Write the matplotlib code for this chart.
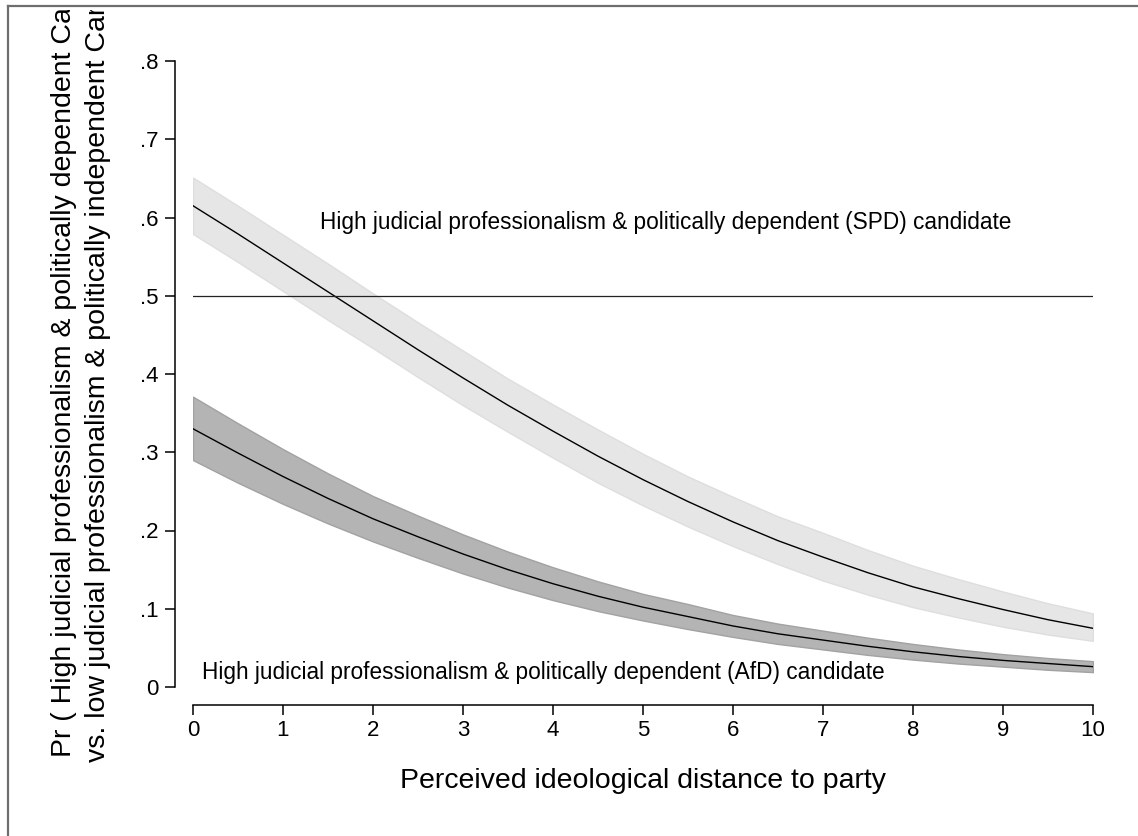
import matplotlib
matplotlib.use("Agg")
import matplotlib.pyplot as plt
from matplotlib.lines import Line2D
from matplotlib.transforms import Bbox, TransformedBbox

plt.rcParams['font.family'] = ['Liberation Sans', 'DejaVu Sans']

# distancia ideologica percebida
x_vals = [0, 0.5, 1, 1.5, 2, 2.5, 3, 3.5, 4, 4.5, 5,
          5.5, 6, 6.5, 7, 7.5, 8, 8.5, 9, 9.5, 10]

# SPD candidate: predicted probability and 95% band
spd_p = [.615, .579, .542, .505, .468, .431, .395, .360, .327, .295, .265,
         .237, .211, .187, .166, .146, .128, .113, .099, .086, .075]
spd_lo = [.579, .543, .506, .469, .433, .396, .360, .326, .293, .261, .232,
          .205, .180, .157, .136, .118, .102, .089, .077, .067, .059]
spd_hi = [.651, .615, .578, .541, .503, .466, .430, .394, .361, .329, .298,
          .269, .243, .218, .197, .175, .155, .138, .122, .107, .094]

# AfD candidate
afd_p = [.330, .299, .269, .241, .215, .192, .170, .150, .132, .116, .102,
         .090, .078, .068, .060, .052, .045, .039, .034, .030, .026]
afd_lo = [.290, .261, .234, .209, .186, .165, .145, .127, .111, .097, .085,
          .074, .064, .055, .048, .041, .035, .030, .026, .022, .019]
afd_hi = [.371, .337, .304, .273, .244, .219, .195, .173, .153, .135, .119,
          .106, .092, .081, .072, .063, .055, .048, .042, .037, .033]

x_ticks = [0, 1, 2, 3, 4, 5, 6, 7, 8, 9, 10]
y_ticks = [0, .1, .2, .3, .4, .5, .6, .7, .8]
y_tick_labels = ["0", ".1", ".2", ".3", ".4", ".5", ".6", ".7", ".8"]

W, H = 1138, 836
fig = plt.figure(figsize=(W / 100, H / 100), dpi=100)
fig.patch.set_facecolor("white")
ax = fig.add_axes([193 / W, 1 - 687 / H, 900 / W, 626 / H])

# bandas de confianca
ax.fill_between(x_vals, spd_lo, spd_hi, facecolor="#e6e6e6",
                edgecolor="#dedede", linewidth=1.0, zorder=1)
ax.fill_between(x_vals, afd_lo, afd_hi, facecolor="#b4b4b4",
                edgecolor="#a2a2a2", linewidth=1.0, zorder=2)
ax.plot(x_vals, spd_p, color="black", lw=1.0, zorder=3)
ax.plot(x_vals, afd_p, color="black", lw=1.0, zorder=3)
ax.plot([x_vals[0], x_vals[-1]], [.5, .5], color="#222222", lw=0.9, zorder=3)

ax.text(1.41, .594, "High judicial professionalism & politically dependent (SPD) candidate",
        fontsize=16.3, va="center", ha="left")
ax.text(0.1, .019, "High judicial professionalism & politically dependent (AfD) candidate",
        fontsize=16.3, va="center", ha="left")

ax.set_xlim(0, 10)
ax.set_ylim(0, .8)
ax.set_xticks(x_ticks)
ax.set_yticks(y_ticks)
ax.set_yticklabels(y_tick_labels)
ax.tick_params(axis="both", length=7, width=1.1, labelsize=16, direction="out")
ax.tick_params(axis="y", pad=5)
ax.tick_params(axis="x", pad=4)
for s in ["top", "right"]:
    ax.spines[s].set_visible(False)
for s in ["left", "bottom"]:
    ax.spines[s].set_linewidth(1.1)
    ax.spines[s].set_position(("outward", 13))
ax.patch.set_alpha(0)

ax.set_xlabel("Perceived ideological distance to party", fontsize=20.5, labelpad=19)

# titulo do eixo y em duas linhas (cortado no topo)
clip = TransformedBbox(Bbox([[0, 0], [1, 1 - 10 / H]]), fig.transFigure)
t1 = fig.text(64 / W, 79 / H,
              "Pr ( High judicial professionalism & politically dependent Candidate",
              rotation=90, fontsize=20.5, ha="center", va="bottom")
t2 = fig.text(98 / W, 74 / H,
              "vs. low judicial professionalism & politically independent Candidate )",
              rotation=90, fontsize=20.5, ha="center", va="bottom")
for t in (t1, t2):
    t.set_clip_box(clip)
    t.set_clip_on(True)

# moldura cinza (esquerda e topo)
fig.add_artist(Line2D([7.5 / W, 7.5 / W], [0, 1 - 5.5 / H], transform=fig.transFigure,
                      color="#6e6e6e", lw=1.6))
fig.add_artist(Line2D([7.5 / W, 1], [1 - 5.5 / H, 1 - 5.5 / H], transform=fig.transFigure,
                      color="#6e6e6e", lw=1.6))

fig.savefig("out.png", dpi=100)
